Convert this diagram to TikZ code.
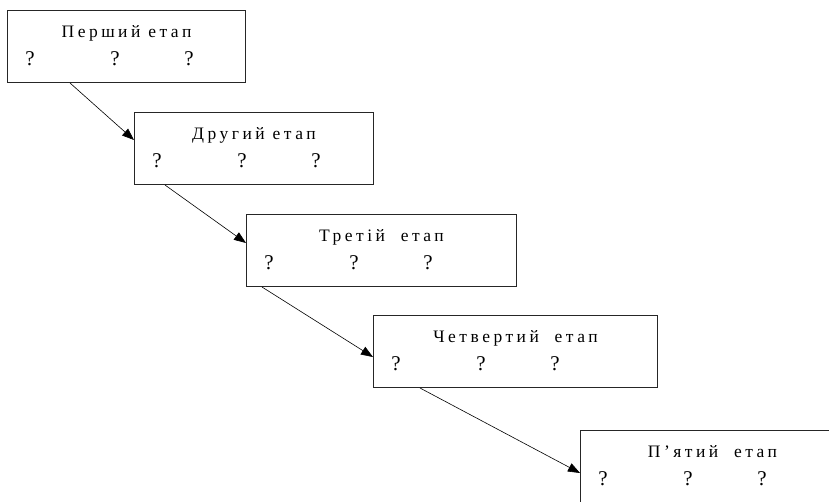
\documentclass[tikz,border=0pt]{standalone}
\usepackage{fontspec}
\setmainfont{Liberation Serif}
\newfontfamily\etapfont[LetterSpace=20]{Liberation Serif}
\usetikzlibrary{arrows.meta}

\tikzset{
  etap/.style={draw, line width=1pt, draw=black!85, anchor=north west, minimum height=72pt, inner sep=0pt},
  nazva/.style={anchor=base, inner sep=0pt, font=\etapfont\fontsize{17.5}{20}\selectfont},
  pyt/.style={anchor=base, inner sep=0pt, font=\fontsize{21}{24}\selectfont},
  strilka/.style={line width=.6pt, -{Triangle[length=12pt,width=9pt]}}
}

\begin{document}
\begin{tikzpicture}[x=1pt,y=-1pt]
\useasboundingbox (0,0) rectangle (829,501);
\clip (0,0) rectangle (829,501);
% boxes with stage titles and question marks
\foreach \n/\x/\y/\w/\t in {1/7/10/238/Перший етап, 2/134/112/239/Другий етап,
    3/246/214/270/Третій~~етап, 4/373/315/284/Четвертий~~етап,
    5/580/430/264/П’ятий~~етап}{
  \node[etap, minimum width=\w pt] (b\n) at (\x,\y) {};
  \node[nazva] (t\n) at ([yshift=-27pt]b\n.north) {\t};
  \foreach \dx [count=\k] in {23,108,182}
    \node[pyt] (q\n\k) at ([xshift=\dx pt,yshift=-55pt]b\n.north west) {?};
}
% arrows
\draw[strilka] ([xshift=63pt]b1.south west) -- ([yshift=-28pt]b2.north west);
\draw[strilka] ([xshift=31pt]b2.south west) -- ([yshift=-29pt]b3.north west);
\draw[strilka] ([xshift=16pt]b3.south west) -- ([yshift=-42pt]b4.north west);
\draw[strilka] ([xshift=47pt]b4.south west) -- ([yshift=-43pt]b5.north west);
\end{tikzpicture}
\end{document}
